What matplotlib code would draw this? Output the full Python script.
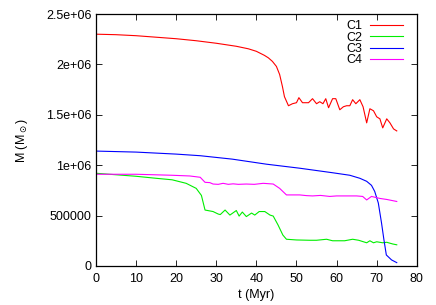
import numpy as np
import matplotlib
matplotlib.use("Agg")
import matplotlib.pyplot as plt

plt.rcParams['font.family'] = ['Liberation Sans', 'DejaVu Sans']
plt.rcParams['mathtext.fontset'] = 'dejavusans'

# cluster mass vs time
t_c1 = [0, 5, 10, 15, 20, 25, 30, 35, 38, 40,
        42, 43, 44, 45, 45.8, 46.5, 47, 48, 49, 50,
        50.6, 51.5, 52.3, 53, 54, 55, 55.8, 56.6, 57.3, 58,
        59, 59.8, 60.8, 61.7, 62.5, 63.3, 64, 64.8, 65.8, 66.6,
        67.5, 68.3, 69.2, 70, 70.8, 71.5, 72.5, 73.3, 74.2, 75]
m_c1 = [2.30, 2.295, 2.285, 2.27, 2.255, 2.235, 2.21, 2.18, 2.155, 2.13,
        2.09, 2.065, 2.03, 1.98, 1.90, 1.78, 1.68, 1.59, 1.61, 1.62,
        1.67, 1.62, 1.62, 1.62, 1.66, 1.61, 1.63, 1.61, 1.66, 1.57,
        1.66, 1.66, 1.55, 1.58, 1.59, 1.59, 1.65, 1.61, 1.65, 1.58,
        1.42, 1.56, 1.54, 1.48, 1.46, 1.37, 1.46, 1.42, 1.36, 1.34]

t_c2 = [0, 5, 10, 15, 19, 22.5, 25, 26.3, 27.2, 29.2,
        30.5, 31, 32.2, 33.4, 35, 35.7, 36.5, 37.5, 38.8, 39.6,
        40.7, 42.1, 43.4, 44.2, 45.4, 46.6, 47.5, 50, 53.3, 55,
        57.5, 59, 62, 64, 65.5, 67.5, 68.3, 69.2, 70, 71.5,
        72.5, 74, 75]
m_c2 = [9.2, 9.05, 8.9, 8.7, 8.55, 8.2, 7.7, 7.0, 5.55, 5.4,
        5.15, 5.1, 5.55, 5.05, 5.5, 4.95, 5.35, 4.9, 5.25, 5.05,
        5.4, 5.4, 5.05, 4.95, 4.07, 3.07, 2.65, 2.58, 2.55, 2.55,
        2.65, 2.5, 2.5, 2.65, 2.55, 2.3, 2.5, 2.3, 2.4, 2.3,
        2.35, 2.18, 2.1]

t_c3 = [0, 10, 20, 26, 34, 42.5, 50.8, 59, 63.3, 65.8,
        67.5, 68.7, 69.5, 70.4, 71.2, 71.8, 72.4, 73.7, 75]
m_c3 = [1.14, 1.13, 1.11, 1.094, 1.06, 1.01, 0.97, 0.925, 0.90, 0.87,
        0.84, 0.80, 0.74, 0.625, 0.427, 0.26, 0.109, 0.06, 0.033]

t_c4 = [0, 10, 19, 23.4, 26, 27.2, 28.4, 29.2, 30.5, 31.7,
        33, 34.2, 35.5, 37.5, 39.5, 41.7, 44.2, 45.8, 47.5, 50.8,
        52.5, 54, 56, 58.3, 60, 62.5, 65, 66.5, 67.5, 68.7,
        70.8, 72.5, 75]
m_c4 = [9.1, 9.1, 9.0, 8.93, 8.8, 8.3, 8.27, 8.13, 8.1, 8.2,
        8.1, 8.15, 8.1, 8.13, 8.1, 8.2, 8.13, 7.7, 7.05, 7.05,
        6.98, 6.95, 7.0, 6.9, 6.95, 6.95, 6.95, 6.9, 6.55, 6.9,
        6.7, 6.6, 6.4]

x_ticks = [0, 10, 20, 30, 40, 50, 60, 70, 80]
y_ticks = [0, 5e5, 1e6, 1.5e6, 2e6, 2.5e6]
y_labels = ["0", "500000", "1e+06", "1.5e+06", "2e+06", "2.5e+06"]

fig = plt.figure(figsize=(4.36, 3.05), dpi=100)
ax = fig.add_axes([0.220, 0.128, 0.736, 0.826])

ax.plot(t_c1, np.array(m_c1) * 1e6, color='#ff0000', lw=0.8, label='C1')
ax.plot(t_c2, np.array(m_c2) * 1e5, color='#00ee00', lw=0.8, label='C2')
ax.plot(t_c3, np.array(m_c3) * 1e6, color='#0000ff', lw=0.8, label='C3')
ax.plot(t_c4, np.array(m_c4) * 1e5, color='#ff00ff', lw=0.8, label='C4')

ax.set_xlim(0, 80)
ax.set_ylim(0, 2.5e6)
ax.set_xticks(x_ticks)
ax.set_yticks(y_ticks)
ax.set_yticklabels(y_labels)
ax.tick_params(direction='in', top=True, right=True, length=4, width=0.6,
               labelsize=9)
ax.tick_params(axis='x', pad=5)
ax.tick_params(axis='y', pad=3)
for s in ax.spines.values():
    s.set_linewidth(0.9)

ax.set_xlabel("t (Myr)", fontsize=9, labelpad=3)
ax.set_ylabel(r"M (M$_\odot$)", fontsize=9, labelpad=12)

ax.legend(loc='upper right', bbox_to_anchor=(0.956, 0.975), frameon=False,
          markerfirst=False, fontsize=9, handlelength=2.6, handletextpad=0.6,
          labelspacing=-0.05, borderaxespad=0, borderpad=0)

fig.savefig("out.png", dpi=100)
